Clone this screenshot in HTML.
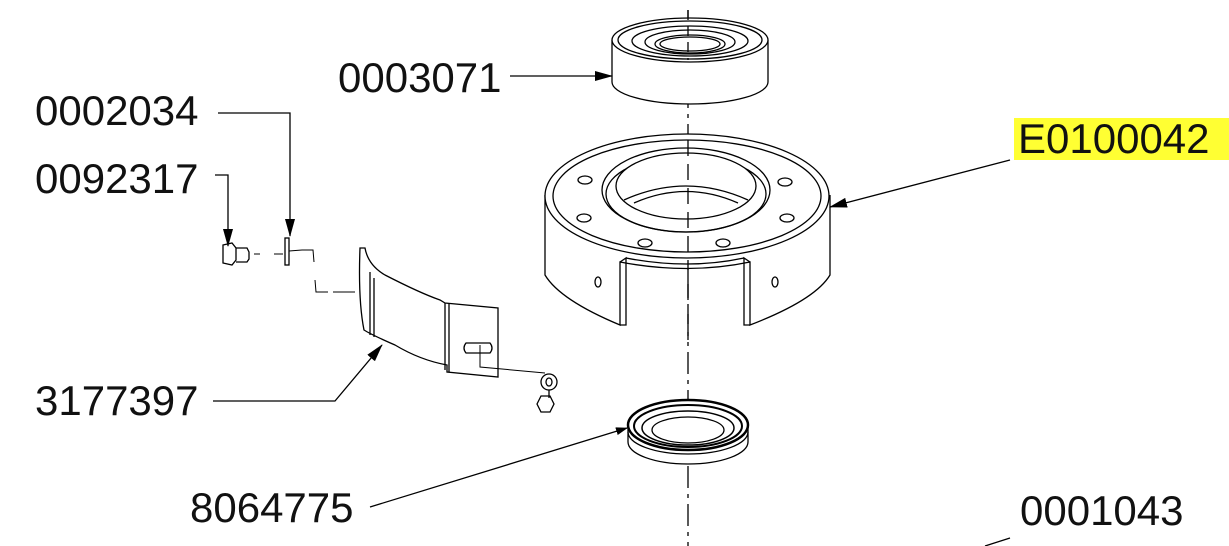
<!DOCTYPE html>
<html><head><meta charset="utf-8"><style>
html,body{margin:0;padding:0;background:#fff;}
svg{display:block}
text{font-family:"Liberation Sans",Arial,sans-serif;font-size:42px;fill:#111}
</style></head><body>
<svg width="1229" height="546" viewBox="0 0 1229 546" xmlns="http://www.w3.org/2000/svg">
<defs><marker id="a" markerWidth="12" markerHeight="8" refX="11" refY="4" orient="auto" markerUnits="userSpaceOnUse"><path d="M0,0 L12,4 L0,8 Z" fill="#000"/></marker>
<marker id="b" markerWidth="18" markerHeight="10" refX="17" refY="5" orient="auto" markerUnits="userSpaceOnUse"><path d="M0,0 L18,5 L0,10 Z" fill="#000"/></marker></defs>
<rect x="1014" y="118" width="215" height="42" fill="#ffff33"/>
<g stroke="#000" fill="none" stroke-width="1.3">
<line x1="688" y1="10" x2="688" y2="546" stroke-dasharray="22,6,4,6"/>
<!-- bearing -->
<path d="M612,40 L612,82 A78,22 0 0 0 768,82 L768,40" fill="#fff"/>
<ellipse cx="690" cy="40" rx="78" ry="22" fill="#fff"/>
<ellipse cx="690" cy="40" rx="72" ry="19"/>
<ellipse cx="690" cy="41" rx="58" ry="15"/>
<ellipse cx="690" cy="42" rx="45" ry="12"/>
<ellipse cx="690" cy="44" rx="35" ry="9"/>
<ellipse cx="690" cy="44" rx="30" ry="7"/>
<line x1="688" y1="10" x2="688" y2="60" stroke-dasharray="10,6"/>
<!-- housing -->
<path d="M545,195 L545,275 Q560,300 620,325 L620,262 Q688,275 750,262 L750,325 Q815,300 830,275 L830,195" fill="#fff"/>
<ellipse cx="687" cy="196" rx="142" ry="62" fill="#fff"/>
<ellipse cx="687" cy="196" rx="134" ry="56"/>
<path d="M620,262 L626,258 L626,325 L620,325 M750,262 L744,258 L744,325 L750,325"/>
<path d="M626,258 Q688,270 744,258"/>
<ellipse cx="686" cy="190" rx="84" ry="42" fill="#fff"/>
<ellipse cx="686" cy="194" rx="80" ry="38"/>
<ellipse cx="686" cy="186" rx="70" ry="33" fill="#fff"/>
<path d="M624,200 Q686,172 748,200"/>
<path d="M634,203 Q686,180 738,203"/>
<ellipse cx="585" cy="180" rx="7" ry="4"/><ellipse cx="785" cy="182" rx="7" ry="4"/>
<ellipse cx="584" cy="218" rx="7" ry="4"/><ellipse cx="787" cy="218" rx="7" ry="4"/>
<ellipse cx="645" cy="243" rx="7" ry="4"/><ellipse cx="723" cy="243" rx="7" ry="4"/>
<ellipse cx="598" cy="282" rx="3" ry="5"/><ellipse cx="775" cy="282" rx="3" ry="5"/>
<line x1="688" y1="140" x2="688" y2="340" stroke-dasharray="16,8"/>
<!-- seal -->
<path d="M628,425 L628,442 A60,22 0 0 0 748,442 L748,425" fill="#fff"/>
<ellipse cx="688" cy="425" rx="60" ry="25" fill="#fff" stroke-width="2.5"/>
<ellipse cx="688" cy="426" rx="54" ry="21" stroke-width="2"/>
<ellipse cx="688" cy="428" rx="46" ry="17" stroke-width="1.5"/>
<ellipse cx="688" cy="430" rx="36" ry="13"/>
<path d="M628,432 A60,22 0 0 0 748,432"/>
<!-- bracket -->
<path d="M360,248 L365,248 Q368,265 385,275 Q420,293 440,300 L445,303 L498,308 L498,377 L447,372 L447,365 Q420,360 395,345 Q372,335 364,330 Q358,300 360,248 Z" fill="#fff"/>
<path d="M370,272 L370,335 M374,278 L374,337 M445,303 L445,370 M449,303 L449,372"/>
<path d="M466,343 L490,343 Q494,348 490,353 L466,353 Q462,348 466,343 Z"/>
<path d="M480,345 L480,367 L545,373" stroke-width="1"/>
<circle cx="549" cy="382" r="8"/><ellipse cx="549" cy="382" rx="3" ry="4"/>
<path d="M537,404 L541,396 L550,396 L554,404 L550,412 L541,412 Z M549,390 L549,398"/>
<!-- bolt & washer -->
<path d="M223,245 L232,243 L236,248 L236,260 L232,265 L223,263 Z"/>
<path d="M236,248 L247,248 L249,252 L249,259 L247,262 L236,262"/>
<path d="M254,254 L260,254 M274,254 L283,254" stroke-width="1"/>
<rect x="285" y="238" width="4" height="27"/>
<path d="M289,251 L302,250 L313,250 L314,262 M315,280 L316,292 L328,292 M333,292 L355,292" stroke-width="1"/>
<!-- leaders -->
<path d="M510,76 L612,76" marker-end="url(#b)"/>
<path d="M218,113 L290,113 L290,236" marker-end="url(#b)"/>
<path d="M215,175 L228,175 L228,246" marker-end="url(#b)"/>
<path d="M1010,160 L830,207" marker-end="url(#b)"/>
<path d="M213,401 L335,401 L382,345" marker-end="url(#b)"/>
<path d="M370,507 L627,428" marker-end="url(#a)"/>
<path d="M1010,538 L985,546"/>
</g>
<text x="338" y="92">0003071</text>
<text x="35" y="125">0002034</text>
<text x="35" y="193">0092317</text>
<text x="1018" y="153">E0100042</text>
<text x="35" y="415">3177397</text>
<text x="190" y="522">8064775</text>
<text x="1020" y="525">0001043</text>
</svg>
</body></html>
